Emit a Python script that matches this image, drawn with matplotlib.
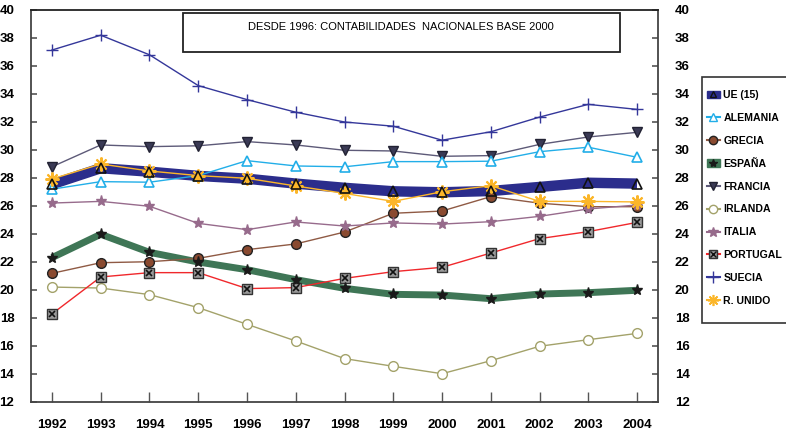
import matplotlib
matplotlib.use("Agg")
import matplotlib.pyplot as plt
from matplotlib.lines import Line2D
from matplotlib.patches import Patch, Rectangle

plt.rcParams['font.family'] = ['Liberation Sans', 'DejaVu Sans']

years = list(range(1992, 2005))

ue15 = [27.55, 28.7, 28.45, 28.15, 27.95, 27.6, 27.3, 27.05, 26.98, 27.07, 27.36, 27.66, 27.6]
alemania = [27.2, 27.74, 27.7, 28.17, 29.24, 28.86, 28.8, 29.17, 29.17, 29.2, 29.88, 30.2, 29.48]
grecia = [21.19, 21.95, 22.02, 22.26, 22.88, 23.29, 24.14, 25.48, 25.64, 26.67, 26.2, 25.95, 25.95]
espana = [22.31, 23.98, 22.69, 22.0, 21.45, 20.74, 20.12, 19.69, 19.64, 19.38, 19.71, 19.81, 19.98]
francia = [28.8, 30.36, 30.24, 30.3, 30.6, 30.36, 29.98, 29.93, 29.55, 29.6, 30.4, 30.93, 31.26]
irlanda = [20.21, 20.14, 19.67, 18.74, 17.55, 16.36, 15.1, 14.55, 14.02, 14.95, 15.98, 16.45, 16.9]
italia = [26.21, 26.33, 25.98, 24.76, 24.31, 24.86, 24.57, 24.79, 24.71, 24.88, 25.26, 25.79, 26.07]
portugal = [18.29, 20.93, 21.24, 21.24, 20.1, 20.17, 20.83, 21.31, 21.62, 22.64, 23.67, 24.17, 24.83]
suecia = [37.14, 38.2, 36.8, 34.6, 33.6, 32.7, 32.0, 31.7, 30.7, 31.3, 32.35, 33.26, 32.9]
r_unido = [27.93, 29.0, 28.5, 28.17, 27.98, 27.43, 26.9, 26.33, 27.02, 27.45, 26.33, 26.33, 26.29]

title_text = "DESDE 1996: CONTABILIDADES  NACIONALES BASE 2000"

W, H = 786, 433
fig = plt.figure(figsize=(W / 100, H / 100), dpi=100)
ax = fig.add_axes([31 / W, 31 / H, 627 / W, 392 / H])

C_UE = '#2b2d8c'
C_ALE = '#22aee8'
C_GRE = '#8f5a44'
C_ESP = '#3f7656'
C_FRA = '#5d5a78'
C_IRL = '#a3a26a'
C_ITA = '#976b8c'
C_POR = '#f0282c'
C_SUE = '#34379a'
C_RU = '#fbb62a'

# thick bands first
ax.plot(years, ue15, color=C_UE, lw=7.5, solid_capstyle='butt', zorder=2)
ax.plot(years, ue15, ls='none', marker='^', ms=7, mfc='none', mec='#111111', mew=1.2, zorder=6)
ax.plot(years, espana, color=C_ESP, lw=5, solid_capstyle='butt', zorder=2)
ax.plot(years, espana, ls='none', marker='*', ms=8, color='#1a1a1a', zorder=6)

ax.plot(years, suecia, color=C_SUE, lw=1, marker='+', ms=8, mew=1, zorder=3)
ax.plot(years, francia, color=C_FRA, lw=1, marker='v', ms=7, mfc='#3a3a55', mec='#222233', zorder=3)
ax.plot(years, alemania, color=C_ALE, lw=1, marker='^', ms=7, mfc='white', mec=C_ALE, mew=1.2, zorder=3)
ax.plot(years, grecia, color=C_GRE, lw=1, marker='o', ms=7, mfc='#8a4a30', mec='#222222', zorder=3)
ax.plot(years, italia, color=C_ITA, lw=1, marker='*', ms=8, mfc=C_ITA, mec=C_ITA, zorder=3)
ax.plot(years, irlanda, color=C_IRL, lw=1, marker='o', ms=7, mfc='white', mec=C_IRL, mew=1, zorder=3)
ax.plot(years, portugal, color=C_POR, lw=1, zorder=3)
ax.plot(years, portugal, ls='none', marker='s', ms=7, mfc='#9a9a9a', mec='#333333', mew=1, zorder=4)
ax.plot(years, portugal, ls='none', marker='x', ms=5, mec='#111111', mew=1.2, zorder=5)
ax.plot(years, r_unido, color=C_RU, lw=1, marker=(8, 2, 0), ms=10, mec=C_RU, mew=1.5, zorder=5)

ax.set_xlim(1991.57, 2004.43)
ax.set_ylim(12, 40)
ax.set_xticks(years)
ax.set_xticklabels([str(y) for y in years], fontsize=9.5, fontweight='bold')
ax.set_yticks(range(12, 41, 2))
ax.tick_params(axis='y', which='both', direction='in', length=4, width=1.2, color='#555555',
               labelsize=9.5, left=True, right=True, labelleft=True, labelright=True, pad=12)
ax.tick_params(axis='x', direction='in', length=7, width=1, color='#555555', pad=12)
for t in ax.get_yticklabels():
    t.set_fontweight('bold')
for side in ['left', 'bottom', 'right']:
    ax.spines[side].set_color('#444444')
    ax.spines[side].set_linewidth(1.3)
ax.spines['top'].set_color('#222222')
ax.spines['top'].set_linewidth(1.3)

# title box inside the plotting area
fig.patches.append(Rectangle((183 / W, 1 - 52 / H), 437 / W, 39 / H,
                             transform=fig.transFigure, fill=True, facecolor='white',
                             edgecolor='#222222', lw=1.3, zorder=10))
fig.text(401 / W, 1 - 27 / H, title_text, ha='center', va='center', fontsize=8, zorder=11)

# legend frame, running past the right edge
fig.patches.append(Rectangle((702 / W, 1 - 323 / H), 100 / W, 246 / H,
                             transform=fig.transFigure, fill=True, facecolor='white',
                             edgecolor='#333333', lw=1.2, zorder=1))

handles = [
    (Patch(facecolor=C_UE, edgecolor=C_UE),
     Line2D([], [], ls='none', marker='^', ms=5, mfc='none', mec='#111111')),
    Line2D([], [], color=C_ALE, marker='^', ms=6, mfc='white', mec=C_ALE),
    Line2D([], [], color=C_GRE, marker='o', ms=6, mfc='#8a4a30', mec='#222222'),
    (Patch(facecolor=C_ESP, edgecolor=C_ESP),
     Line2D([], [], ls='none', marker='*', ms=6, color='#1a1a1a')),
    Line2D([], [], color=C_FRA, marker='v', ms=6, mfc='#3a3a55', mec='#222233'),
    Line2D([], [], color=C_IRL, marker='o', ms=6, mfc='white', mec=C_IRL),
    Line2D([], [], color=C_ITA, marker='*', ms=7, mfc=C_ITA, mec=C_ITA),
    (Line2D([], [], color=C_POR, marker='s', ms=6, mfc='#9a9a9a', mec='#333333'),
     Line2D([], [], ls='none', marker='x', ms=4, mec='#111111')),
    Line2D([], [], color=C_SUE, marker='+', ms=8),
    Line2D([], [], color=C_RU, marker=(8, 2, 0), ms=8, mec=C_RU, mew=1.2),
]
labels = ['UE (15)', 'ALEMANIA', 'GRECIA', 'ESPAÑA', 'FRANCIA', 'IRLANDA', 'ITALIA',
          'PORTUGAL', 'SUECIA', 'R. UNIDO']
leg = fig.legend(handles, labels, loc='upper left', bbox_to_anchor=(707 / W, 1 - 90 / H),
                 bbox_transform=fig.transFigure, frameon=False,
                 labelspacing=1.22, handlelength=1.2,
                 handletextpad=0.35, borderpad=0, borderaxespad=0,
                 prop={'weight': 'bold', 'size': 7.6})
leg.set_zorder(5)

fig.savefig('out.png', dpi=100)
